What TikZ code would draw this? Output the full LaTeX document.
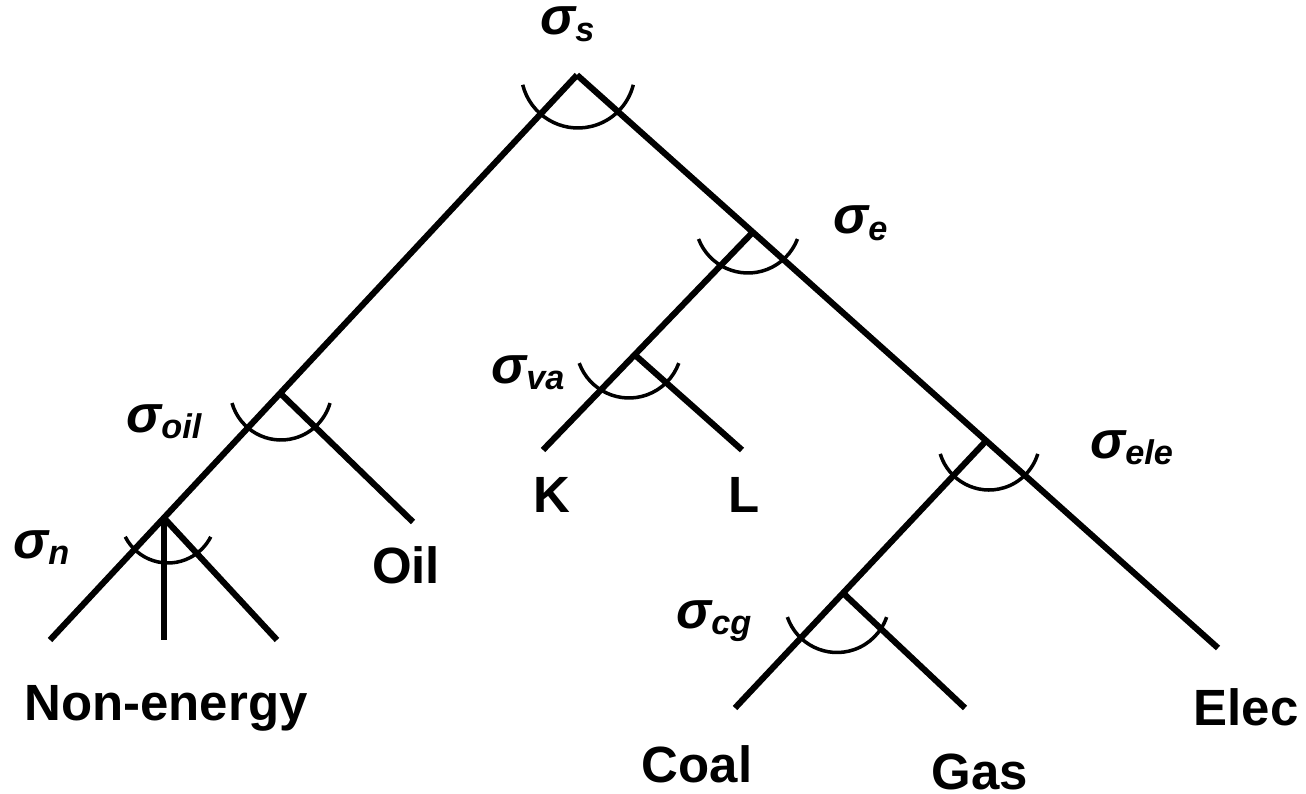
\documentclass[tikz,border=0pt]{standalone}
\usepackage{fontspec}
\setmainfont{Liberation Sans}
\usetikzlibrary{positioning}
\newcommand{\elas}[1]{σ\raisebox{-3.5pt}{\fontsize{19.5}{19.5}\selectfont #1}}

\begin{document}
\begin{tikzpicture}[
    x=0.02cm, y=-0.02cm,
    % Styles
    branch/.style={line width=3.5pt, line cap=butt},
    elasarc/.style={line width=2pt},
    leaf/.style={
        font=\bfseries\fontsize{29}{29}\selectfont,
        anchor=base, inner sep=0pt
    },
    elasnode/.style={
        font=\bfseries\itshape\fontsize{30}{30}\selectfont,
        anchor=base west, inner sep=0pt
    }
]
\useasboundingbox (0,0) rectangle (1306,794);

% ── NESTS ──
\coordinate (top)    at (577,75);
\coordinate (jnoil)  at (280,393);
\coordinate (jnn)    at (164,518);
\coordinate (jne)    at (752,233);
\coordinate (jnva)   at (635,355);
\coordinate (jnele)  at (985,442);
\coordinate (jncg)   at (843,593);

% ── INPUT ENDS ──
\coordinate (nea)    at (50,640);
\coordinate (neb)    at (164,640);
\coordinate (nec)    at (277,640);
\coordinate (oilend) at (413,522);
\coordinate (kend)   at (543,450);
\coordinate (lend)   at (742,450);
\coordinate (coalend) at (735,708);
\coordinate (gasend) at (965,708);
\coordinate (elecend) at (1218,648);

% ── BRANCHES ──
\draw[branch] (top) -- (nea);
\draw[branch] (top) -- (elecend);
\draw[branch] (jnoil) -- (oilend);
\draw[branch] (jnn) -- (neb);
\draw[branch] (jnn) -- (nec);
\draw[branch] (jne) -- (kend);
\draw[branch] (jnva) -- (lend);
\draw[branch] (jnele) -- (coalend);
\draw[branch] (jncg) -- (gasend);

% ── ELASTICITY ARCS ──
\draw[elasarc] (top)   ++(1,-4)   ++(194:1.14cm) arc[start angle=194, end angle=346, radius=1.14cm];
\draw[elasarc] (jne)   ++(-4,-13) ++(201:1.06cm) arc[start angle=201, end angle=339, radius=1.06cm];
\draw[elasarc] (jnva)  ++(-6,-10) ++(200:1.06cm) arc[start angle=200, end angle=340, radius=1.06cm];
\draw[elasarc] (jnoil) ++(1,-4)   ++(196:1.02cm) arc[start angle=196, end angle=344, radius=1.02cm];
\draw[elasarc] (jnn)   ++(4,-3)   ++(207:0.96cm) arc[start angle=207, end angle=333, radius=0.96cm];
\draw[elasarc] (jnele) ++(4,-3)   ++(197:1.02cm) arc[start angle=197, end angle=343, radius=1.02cm];
\draw[elasarc] (jncg)  ++(-6,7)   ++(199:1.05cm) arc[start angle=199, end angle=341, radius=1.05cm];

% ── ELASTICITY LABELS ──
\node[elasnode] (sigs)   at (540,35)  {\elas{s}};
\node[elasnode] (sige)   at (833,234) {\elas{e}};
\node[elasnode] (sigva)  at (491,383) {\elas{va}};
\node[elasnode] (sigoil) at (126,432) {\elas{oil}};
\node[elasnode] (sign)   at (13,558)  {\elas{n}};
\node[elasnode] (sigele) at (1090,458) {\elas{ele}};
\node[elasnode] (sigcg)  at (676,628) {\elas{cg}};

% ── INPUT LABELS ──
\node[leaf] (nonenergy) at (166,720)  {Non-energy};
\node[leaf] (oil)       at (406,583)  {Oil};
\node[leaf] (k)         at (552,512)  {K};
\node[leaf] (l)         at (744,512)  {L};
\node[leaf] (coal)      at (697,782)  {Coal};
\node[leaf] (gas)       at (980,789)  {Gas};
\node[leaf] (elec)      at (1246,725) {Elec};

\end{tikzpicture}
\end{document}
